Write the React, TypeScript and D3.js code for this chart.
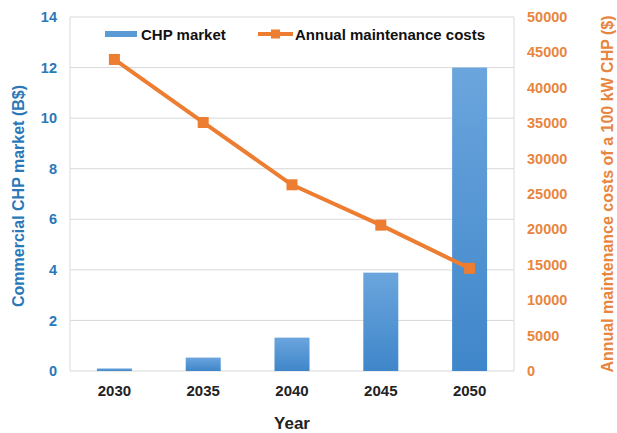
import React from "react";
import * as d3 from "d3";

const years = ["2030", "2035", "2040", "2045", "2050"];
const chpMarket = [0.1, 0.53, 1.32, 3.89, 12.0];
const maintenanceCosts = [44000, 35100, 26300, 20600, 14500];
const leftTicks = [0, 2, 4, 6, 8, 10, 12, 14];
const rightTicks = [0, 5000, 10000, 15000, 20000, 25000, 30000, 35000, 40000, 45000, 50000];

const W = 617;
const H = 433;
const M = { left: 70, right: 514, top: 17, bottom: 371 };
const FONT = "'Liberation Sans', Arial, sans-serif";
const BLUE_TEXT = "#2B78B8";
const ORANGE = "#ED7D31";
const ORANGE_TEXT = "#E8853E";

export default function App() {
  const xc = d3.scaleBand<string>().domain(years).range([M.left, M.right]);
  const yL = d3.scaleLinear().domain([0, 14]).range([M.bottom, M.top]);
  const yR = d3.scaleLinear().domain([0, 50000]).range([M.bottom, M.top]);
  const bw = 35;
  const cxOf = (y: string) => (xc(y) as number) + xc.bandwidth() / 2;
  const line = d3
    .line<number>()
    .x((_, i) => cxOf(years[i]))
    .y((d) => yR(d));

  return (
    <svg width={W} height={H} style={{ position: "absolute", left: 0, top: 0, background: "#fff" }}>
      <defs>
        <linearGradient id="barGrad" x1="0" y1="0" x2="0" y2="1">
          <stop offset="0%" stopColor="#6BA5DD" />
          <stop offset="100%" stopColor="#3F86CA" />
        </linearGradient>
      </defs>
      <rect x={0} y={0} width={W} height={H} fill="#fff" />
      {leftTicks.map((t) => (
        <line key={t} x1={M.left} x2={M.right} y1={yL(t)} y2={yL(t)} stroke="#D9D9D9" strokeWidth={1} />
      ))}
      <line x1={M.left} x2={M.left} y1={M.top} y2={M.bottom} stroke="#D9D9D9" />
      <line x1={M.right} x2={M.right} y1={M.top} y2={M.bottom} stroke="#D9D9D9" />
      {years.map((y, i) => (
        <rect
          key={y}
          x={cxOf(y) - bw / 2}
          y={yL(chpMarket[i])}
          width={bw}
          height={yL(0) - yL(chpMarket[i])}
          fill="url(#barGrad)"
        />
      ))}
      <path d={line(maintenanceCosts) || ""} fill="none" stroke={ORANGE} strokeWidth={4} strokeLinejoin="round" />
      {maintenanceCosts.map((v, i) => (
        <rect key={i} x={cxOf(years[i]) - 5.5} y={yR(v) - 5.5} width={11} height={11} fill={ORANGE} />
      ))}
      {leftTicks.map((t) => (
        <text key={t} x={57} y={yL(t)} dy="0.35em" textAnchor="end" fill={BLUE_TEXT} fontFamily={FONT} fontWeight="bold" fontSize={14.5}>
          {t}
        </text>
      ))}
      {rightTicks.map((t) => (
        <text key={t} x={527} y={yR(t)} dy="0.35em" textAnchor="start" fill={ORANGE_TEXT} fontFamily={FONT} fontWeight="bold" fontSize={14.5}>
          {t}
        </text>
      ))}
      {years.map((y) => (
        <text key={y} x={cxOf(y)} y={396} textAnchor="middle" fill="#222" fontFamily={FONT} fontWeight="bold" fontSize={15}>
          {y}
        </text>
      ))}
      <text x={(M.left + M.right) / 2} y={429} textAnchor="middle" fill="#222" fontFamily={FONT} fontWeight="bold" fontSize={17}>
        Year
      </text>
      <text
        transform={`translate(24, ${(M.top + M.bottom) / 2 + 2}) rotate(-90)`}
        textAnchor="middle"
        fill={BLUE_TEXT}
        fontFamily={FONT}
        fontWeight="bold"
        fontSize={16}
      >
        Commercial CHP market (B$)
      </text>
      <text
        transform={`translate(613, ${(M.top + M.bottom) / 2}) rotate(-90)`}
        textAnchor="middle"
        fill={ORANGE_TEXT}
        fontFamily={FONT}
        fontWeight="bold"
        fontSize={16}
      >
        Annual maintenance costs of a 100 kW CHP ($)
      </text>
      <rect x={105} y={31} width={32} height={6} fill="#5B9BD5" />
      <text x={141} y={39.5} fill="#111" fontFamily={FONT} fontWeight="bold" fontSize={15}>
        CHP market
      </text>
      <line x1={258} x2={293} y1={34} y2={34} stroke={ORANGE} strokeWidth={4} />
      <rect x={271} y={29.5} width={9} height={9} fill={ORANGE} />
      <text x={295} y={39.5} fill="#111" fontFamily={FONT} fontWeight="bold" fontSize={15}>
        Annual maintenance costs
      </text>
    </svg>
  );
}
